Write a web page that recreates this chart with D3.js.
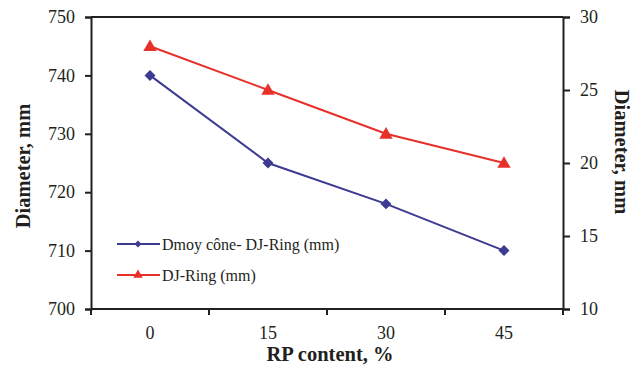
<!DOCTYPE html>
<html>
<head>
<meta charset="utf-8">
<script src="https://cdn.jsdelivr.net/npm/d3@7"></script>
<style>
  html, body { margin: 0; padding: 0; background: #fff; }
  svg { display: block; }
</style>
</head>
<body>
<svg id="chart" width="639" height="366"></svg>
<script>
// RP content categories (%)
const categories = ["0", "15", "30", "45"];
// Mean cone spread minus J-Ring spread (mm), left axis
const dmoyValues = [740, 725, 718, 710];
// J-Ring step (mm), right axis
const djRingValues = [28, 25, 22, 20];
const leftTicks = [700, 710, 720, 730, 740, 750];
const rightTicks = [10, 15, 20, 25, 30];
const seriesNames = ["Dmoy cône- DJ-Ring (mm)", "DJ-Ring (mm)"];

const FONT = "Liberation Serif";
const blue = "#3d3a91";
const red = "#e8302a";
const ink = "#231f20";

const svg = d3.select("#chart");
const m = { left: 91, right: 563, top: 17, bottom: 309 };

const x = d3.scaleBand().domain(categories).range([m.left, m.right]).padding(0);
const yL = d3.scaleLinear().domain([700, 750]).range([m.bottom, m.top]);
const yR = d3.scaleLinear().domain([10, 30]).range([m.bottom, m.top]);

// Frame: top border
svg.append("line")
  .attr("x1", m.left).attr("x2", m.right)
  .attr("y1", m.top).attr("y2", m.top)
  .attr("stroke", ink).attr("stroke-width", 2);

// Left axis
const gL = svg.append("g").attr("transform", `translate(${m.left},0)`)
  .call(d3.axisLeft(yL).tickValues(leftTicks).tickSize(6).tickPadding(10));
// Right axis
const gR = svg.append("g").attr("transform", `translate(${m.right},0)`)
  .call(d3.axisRight(yR).tickValues(rightTicks).tickSize(7).tickPadding(10));
// Bottom axis, ticks placed between categories
const gB = svg.append("g").attr("transform", `translate(0,${m.bottom})`)
  .call(d3.axisBottom(x).tickSize(0).tickPadding(17));
gB.selectAll(".sep")
  .data(d3.range(categories.length + 1))
  .enter().append("line")
  .attr("class", "sep")
  .attr("x1", i => m.left + i * x.bandwidth())
  .attr("x2", i => m.left + i * x.bandwidth())
  .attr("y1", 0).attr("y2", 6)
  .attr("stroke", ink).attr("stroke-width", 2);

[gL, gR, gB].forEach(g => {
  g.attr("font-family", FONT).attr("font-size", 18);
  g.select(".domain").attr("stroke", ink).attr("stroke-width", 2);
  g.selectAll(".tick line").attr("stroke", ink).attr("stroke-width", 2);
  g.selectAll(".tick text").attr("fill", ink).attr("font-family", FONT);
});
gB.select(".domain").attr("d", `M${m.left},0H${m.right}`);

// Axis titles
const title = (sel) => sel.attr("font-family", FONT).attr("font-size", 20.5)
  .attr("font-weight", "bold").attr("fill", ink).attr("text-anchor", "middle");
svg.append("text")
  .attr("transform", "translate(30,166) rotate(-90)")
  .call(title).text("Diameter, mm");
svg.append("text")
  .attr("transform", "translate(615,152) rotate(90)")
  .call(title).text("Diameter, mm");
svg.append("text")
  .attr("x", 330).attr("y", 361)
  .call(title).text("RP content, %");

const cx = c => x(c) + x.bandwidth() / 2;
const diamond = d3.symbol().type(d3.symbolSquare).size(60);
const triangle = d3.symbol().type(d3.symbolTriangle).size(78);

// Blue series (left axis)
svg.append("path")
  .datum(dmoyValues)
  .attr("fill", "none").attr("stroke", blue).attr("stroke-width", 2)
  .attr("d", d3.line().x((d, i) => cx(categories[i])).y(d => yL(d)));
svg.selectAll(".dm").data(dmoyValues).enter().append("path")
  .attr("class", "dm")
  .attr("d", diamond)
  .attr("fill", blue)
  .attr("transform", (d, i) => `translate(${cx(categories[i])},${yL(d)}) rotate(45)`);

// Red series (right axis)
svg.append("path")
  .datum(djRingValues)
  .attr("fill", "none").attr("stroke", red).attr("stroke-width", 2)
  .attr("d", d3.line().x((d, i) => cx(categories[i])).y(d => yR(d)));
svg.selectAll(".dj").data(djRingValues).enter().append("path")
  .attr("class", "dj")
  .attr("d", triangle)
  .attr("fill", red)
  .attr("transform", (d, i) => `translate(${cx(categories[i])},${yR(d) + 1})`);

// Legend
const legend = svg.append("g");
const legendItems = [
  { name: seriesNames[0], color: blue, sym: d3.symbol().type(d3.symbolSquare).size(24), rot: 45, y: 244 },
  { name: seriesNames[1], color: red, sym: d3.symbol().type(d3.symbolTriangle).size(40), rot: 0, y: 275 }
];
legendItems.forEach(it => {
  legend.append("line")
    .attr("x1", 117).attr("x2", 160).attr("y1", it.y).attr("y2", it.y)
    .attr("stroke", it.color).attr("stroke-width", 2);
  legend.append("path").attr("d", it.sym).attr("fill", it.color)
    .attr("transform", `translate(138,${it.y}) rotate(${it.rot})`);
  legend.append("text")
    .attr("x", 162).attr("y", it.y + 6)
    .attr("font-family", FONT).attr("font-size", 16).attr("fill", ink)
    .text(it.name);
});
</script>
</body>
</html>
